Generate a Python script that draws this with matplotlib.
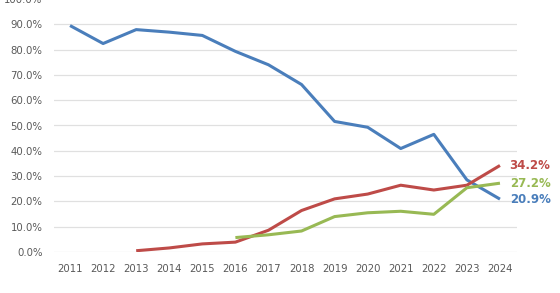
import matplotlib
matplotlib.use("Agg")
import matplotlib.pyplot as plt
from matplotlib.ticker import PercentFormatter, MultipleLocator

years = list(range(2011, 2025))

blue_years = years
blue = [89.5, 82.4, 87.9, 86.9, 85.6, 79.3, 74.0, 66.2, 51.6, 49.3, 40.9, 46.5, 28.5, 20.9]

red_years = list(range(2013, 2025))
red = [0.5, 1.6, 3.2, 3.9, 8.6, 16.4, 21.0, 22.9, 26.4, 24.5, 26.4, 34.2]

green_years = list(range(2016, 2025))
green = [5.7, 6.8, 8.3, 14.0, 15.5, 16.1, 14.9, 25.4, 27.2]

c_blue = "#4A7EBB"
c_red = "#BE4B48"
c_green = "#98B954"

fig = plt.figure(figsize=(5.6, 2.93), dpi=100)
ax = fig.add_axes([53.5 / 560, 41 / 293, 463 / 560, 253 / 293])

ax.plot(blue_years, blue, color=c_blue, lw=2.2, solid_capstyle="butt")
ax.plot(red_years, red, color=c_red, lw=2.2, solid_capstyle="butt")
ax.plot(green_years, green, color=c_green, lw=2.2, solid_capstyle="butt")

for ys, vs, c in [(red_years, red, c_red), (green_years, green, c_green), (blue_years, blue, c_blue)]:
    ax.annotate(f"{vs[-1]:.1f}%", (ys[-1], vs[-1]), xytext=(7, 0),
                textcoords="offset points", va="center", ha="left",
                color=c, fontsize=8.5, fontweight="bold", annotation_clip=False)

ax.set_xlim(2010.5, 2024.5)
ax.set_ylim(0, 100)
ax.yaxis.set_major_locator(MultipleLocator(10))
ax.yaxis.set_major_formatter(PercentFormatter(decimals=1))
ax.set_xticks(years)
ax.grid(axis="y", color="#E0E0E0", lw=0.9)
ax.set_axisbelow(True)
for s in ax.spines.values():
    s.set_visible(False)
ax.tick_params(length=0, labelsize=7.3, labelcolor="#595959")
ax.tick_params(axis="y", pad=8)
ax.tick_params(axis="x", pad=9)

fig.savefig("out.png", dpi=100)
